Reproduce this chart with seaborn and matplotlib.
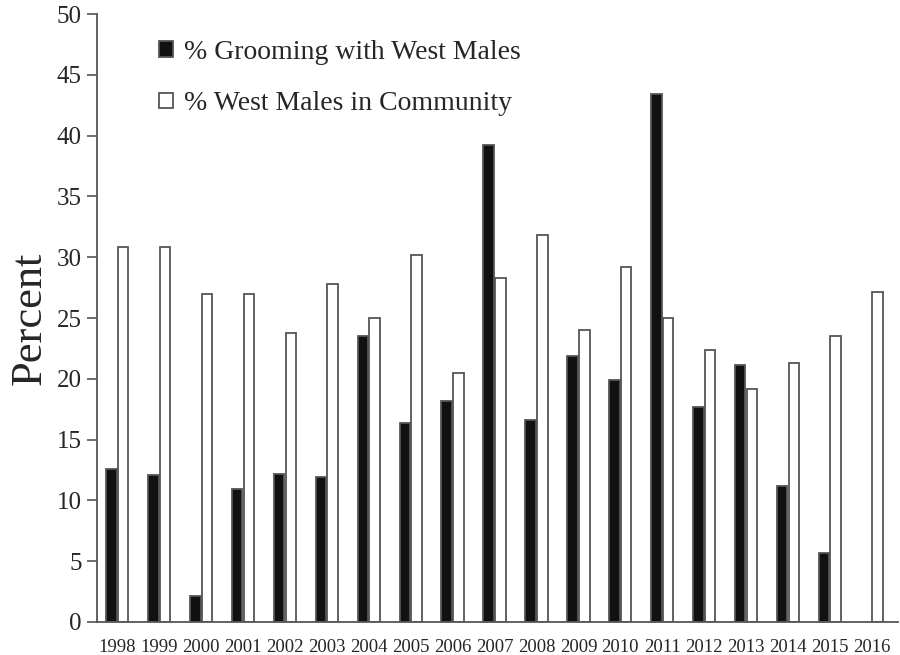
import numpy as np
import pandas as pd
import matplotlib
matplotlib.use('Agg')
import matplotlib.pyplot as plt
import seaborn as sns

years = [str(y) for y in range(1998, 2017)]
grooming = [12.6, 12.1, 2.1, 10.9, 12.2, 11.9, 23.5, 16.4, 18.2, 39.2,
            16.6, 21.9, 19.9, 43.4, 17.7, 21.1, 11.2, 5.7, np.nan]
community = [30.8, 30.8, 27.0, 27.0, 23.8, 27.8, 25.0, 30.2, 20.5, 28.3,
             31.8, 24.0, 29.2, 25.0, 22.4, 19.2, 21.3, 23.5, 27.1]
series_names = ['% Grooming with West Males', '% West Males in Community']

df = pd.DataFrame({
    'year': years * 2,
    'value': grooming + community,
    'series': [series_names[0]] * len(years) + [series_names[1]] * len(years),
})

sns.set_style('ticks')
plt.rcParams['font.family'] = ['Liberation Serif', 'DejaVu Serif']

fig = plt.figure(figsize=(9, 6.55), dpi=100)
ax = fig.add_axes([0.108, 0.0504, 0.89, 0.9282])

sns.barplot(data=df, x='year', y='value', hue='series', order=years,
            hue_order=series_names, palette=['#111111', 'white'],
            edgecolor='#555555', linewidth=1.3, width=0.56, gap=0.1,
            saturation=1, ax=ax, legend=True)

ax.set_ylim(0, 50)
ax.set_xlim(-0.48, 18.63)
ax.set_yticks(range(0, 51, 5))
ax.set_xlabel('')
ax.set_ylabel('Percent', fontsize=32, labelpad=5)
ax.tick_params(axis='y', labelsize=18, length=7, width=1.2, color='#555555', pad=4)
ax.tick_params(axis='x', labelsize=13.5, length=0, pad=12)
for s in ['top', 'right']:
    ax.spines[s].set_visible(False)
for s in ['left', 'bottom']:
    ax.spines[s].set_color('#555555')
    ax.spines[s].set_linewidth(1.3)

handles, labels = ax.get_legend_handles_labels()
ax.legend(handles, labels, loc='upper left', bbox_to_anchor=(159 / 900, 1 - 40 / 655),
          bbox_transform=fig.transFigure, frameon=False, fontsize=20,
          handlelength=0.5, handleheight=0.5, handletextpad=0.4,
          labelspacing=0.95, borderpad=0, borderaxespad=0)

fig.savefig('out.png', dpi=100)
